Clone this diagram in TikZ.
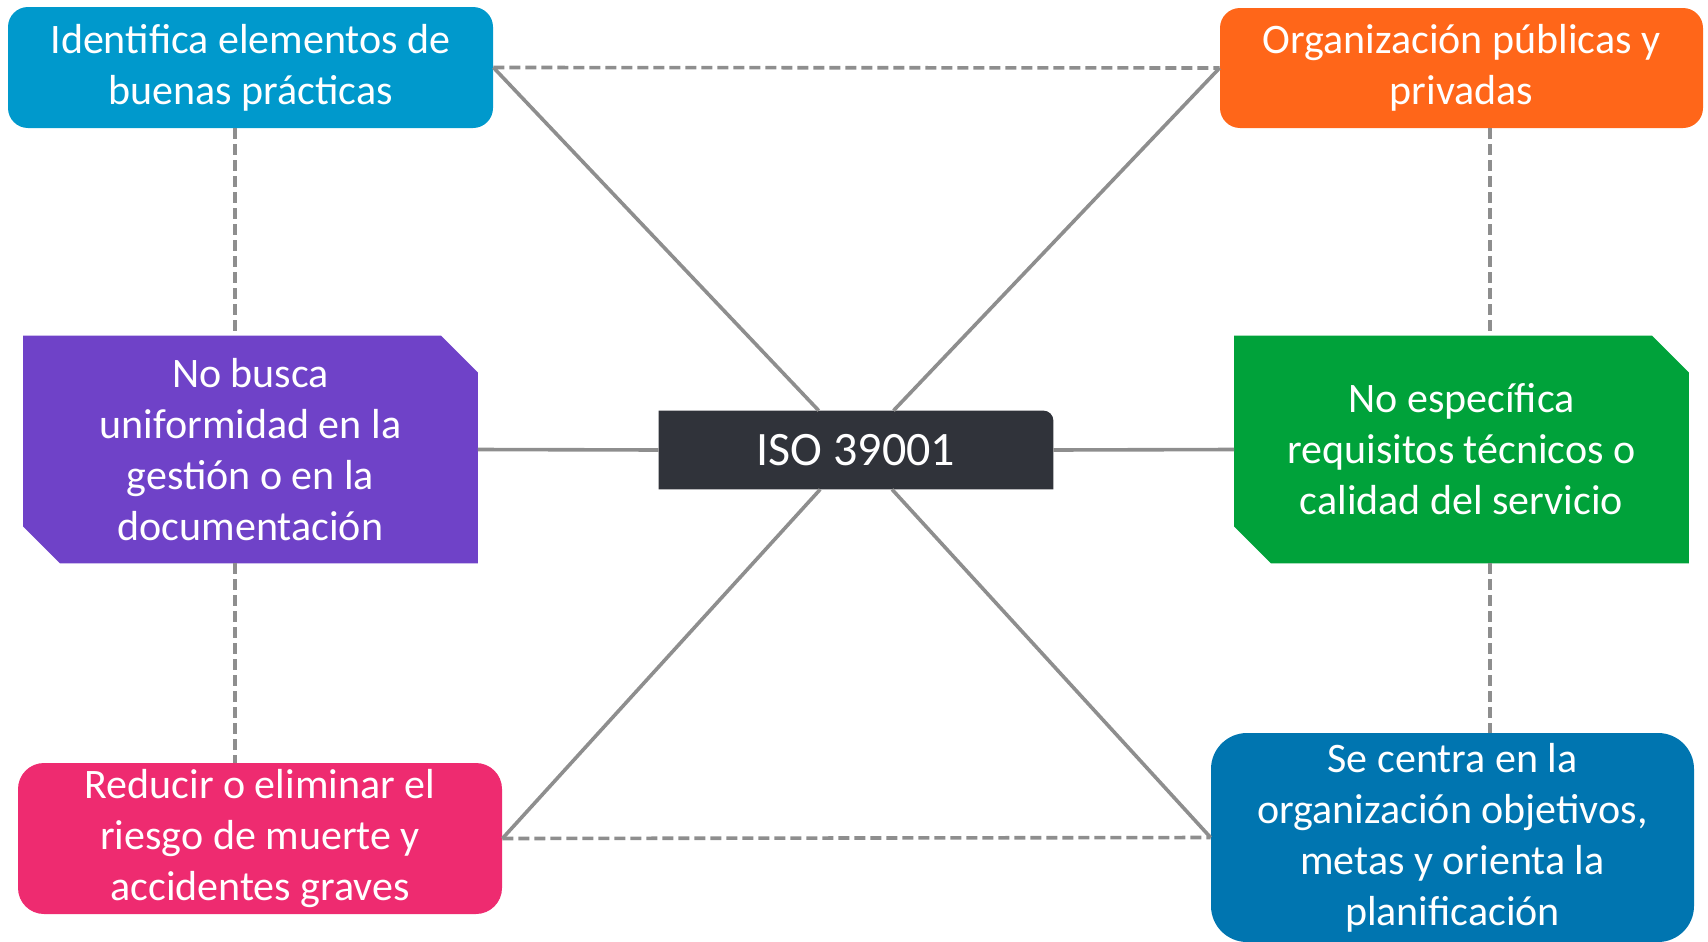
\documentclass[tikz,border=0pt]{standalone}
\usepackage{fontspec}
\setmainfont{Carlito}
\usetikzlibrary{positioning,backgrounds}

\definecolor{identblue}{RGB}{0,153,204}
\definecolor{orgorange}{RGB}{255,102,25}
\definecolor{nopurple}{RGB}{111,66,200}
\definecolor{nogreen}{RGB}{0,162,58}
\definecolor{centblue}{RGB}{0,117,176}
\definecolor{riskpink}{RGB}{238,43,112}
\definecolor{isodark}{RGB}{48,51,58}
\definecolor{linkgray}{RGB}{142,142,142}

\begin{document}
\begin{tikzpicture}[x=0.5pt,y=-0.5pt,on grid,
    box/.style={text=white,font=\fontsize{21}{25.5}\selectfont,align=center,inner sep=0pt},
    roundbox/.style={box,rectangle,rounded corners=10pt},
    cutbox/.style={box,rectangle,minimum width=227pt,minimum height=113.5pt},
    solidlink/.style={draw=linkgray,line width=1.8pt},
    dashlink/.style={draw=linkgray,line width=1.8pt,dash pattern=on 5.5pt off 2.5pt}]
  \useasboundingbox (0,0) rectangle (1708,942);
  % centre
  \node[box,minimum width=197pt,minimum height=39pt,
        font=\fontsize{24}{28}\selectfont] (iso) at (856,450) {ISO 39001};
  % corners
  \node[roundbox,fill=identblue,minimum width=242.5pt,minimum height=60.5pt] (ident) at (250.5,67.5)
       {Identifica elementos de\\buenas prácticas};
  \node[roundbox,fill=orgorange,minimum width=241.5pt,minimum height=60pt] (org) at (1461.5,68)
       {Organización públicas y\\privadas};
  \node[roundbox,fill=riskpink,minimum width=242pt,minimum height=75.5pt,rounded corners=13pt] (risk) at (260,838.5)
       {Reducir o eliminar el\\riesgo de muerte y\\accidentes graves};
  \node[roundbox,fill=centblue,minimum width=241.5pt,minimum height=104.5pt,rounded corners=18pt] (plan) at (1452.5,837.5)
       {Se centra en la\\organización objetivos,\\metas y orienta la\\planificación};
  % middle row
  \node[cutbox] (unif) [below=191pt of ident]
       {No busca\\uniformidad en la\\gestión o en la\\documentación};
  \node[cutbox] (tech) [below=190.75pt of org]
       {No específica\\requisitos técnicos o\\calidad del servicio};
  \begin{scope}[on background layer]
    \foreach \n/\c in {unif/nopurple,tech/nogreen}
      \fill[\c] (\n.north west) -- ([xshift=-18.5pt]\n.north east) -- ([yshift=-18.5pt]\n.north east)
        -- (\n.south east) -- ([xshift=18.5pt]\n.south west) -- ([yshift=18.5pt]\n.south west) -- cycle;
    \fill[isodark] (iso.south west) -- (iso.north west) -- ([xshift=-5pt]iso.north east)
      arc[start angle=90,end angle=0,radius=5pt] -- (iso.south east) -- cycle;
  \end{scope}
  % guide columns for the dashed links
  \coordinate (lcol) at (235,0);
  \coordinate (rcol) at (1490,0);
  \draw[solidlink] (unif.east) -- (iso.west);
  \draw[solidlink] (tech.west) -- (iso.east);
  \draw[solidlink] (ident.east) -- (iso);
  \draw[solidlink] (org.west) -- (iso);
  \draw[solidlink] (risk.east) -- (iso);
  \draw[solidlink] (plan.west) -- (iso);
  \draw[dashlink] (ident.east) -- (org.west);
  \draw[dashlink] (risk.east) -- (plan.west);
  \draw[dashlink] (ident.south -| lcol) -- (unif.north -| lcol);
  \draw[dashlink] (unif.south -| lcol) -- (risk.north -| lcol);
  \draw[dashlink] (org.south -| rcol) -- (tech.north -| rcol);
  \draw[dashlink] (tech.south -| rcol) -- (plan.north -| rcol);
\end{tikzpicture}
\end{document}
